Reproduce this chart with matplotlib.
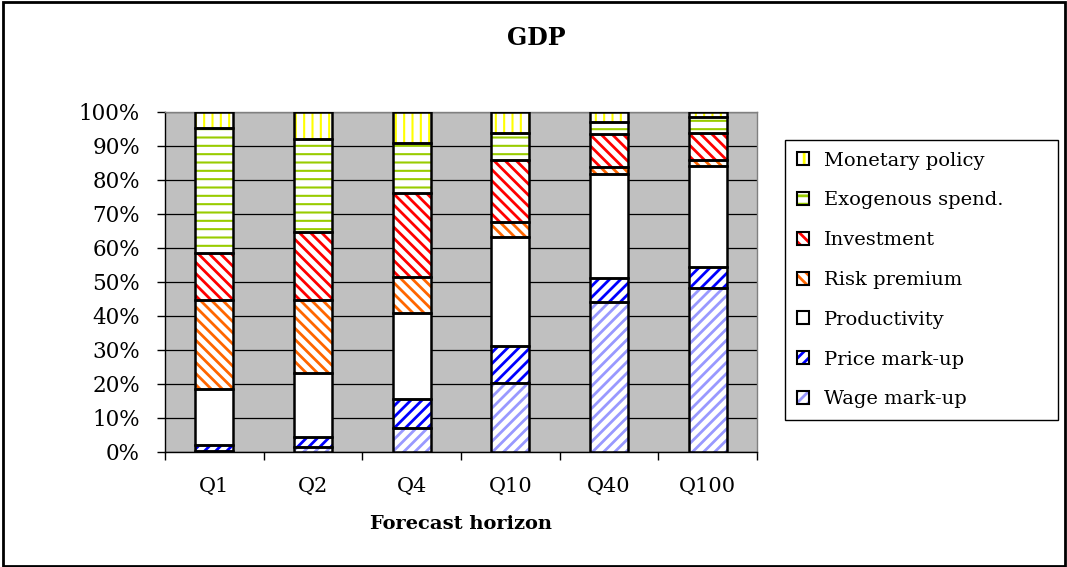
import matplotlib
matplotlib.use("Agg")
import matplotlib.pyplot as plt
import numpy as np
from matplotlib.patches import Patch, Rectangle
from matplotlib.legend_handler import HandlerTuple

categories = ["Q1", "Q2", "Q4", "Q10", "Q40", "Q100"]
series_names = ["Wage mark-up", "Price mark-up", "Productivity", "Risk premium",
                "Investment", "Exogenous spend.", "Monetary policy"]
wage_markup = [0.3, 1.6, 7.0, 20.2, 44.0, 48.3]
price_markup = [1.7, 2.7, 8.5, 11.0, 7.3, 6.0]
productivity = [16.4, 19.0, 25.5, 32.1, 30.5, 29.8]
risk_premium = [26.3, 21.4, 10.4, 4.4, 2.1, 1.8]
investment = [13.9, 20.0, 24.9, 18.2, 9.5, 8.0]
exogenous_spend = [36.6, 27.5, 14.7, 8.0, 3.6, 4.5]
monetary_policy = [4.8, 7.8, 9.0, 6.1, 3.0, 1.6]

values = [wage_markup, price_markup, productivity, risk_premium,
          investment, exogenous_spend, monetary_policy]
hatch_colors = ["#9999FF", "#0000FF", "#FFFFFF", "#FF6600", "#FF0000", "#99CC00", "#FFFF00"]
hatches = ["///", "///", "", "\\\\\\", "\\\\\\", "--", "||"]
hatch_lw = [2.0, 2.0, 1.0, 2.0, 2.0, 1.5, 1.5]

serif = ["DejaVu Serif", "Liberation Serif"]
plt.rcParams["font.family"] = serif
plt.rcParams["hatch.linewidth"] = 2.0

fig = plt.figure(figsize=(10.67, 5.67), dpi=100)
ax = fig.add_axes([165 / 1067, 1 - 452 / 567, (757 - 165) / 1067, (452 - 112) / 567])
ax.set_facecolor("#C0C0C0")


def set_hlw(artist, lw):
    if hasattr(artist, "set_hatch_linewidth"):
        artist.set_hatch_linewidth(lw)


x = np.arange(len(categories))
width = 0.385
bottom = np.zeros(len(categories))
handles = []
for name, vals, hc, h, lw in zip(series_names, values, hatch_colors, hatches, hatch_lw):
    vals = np.array(vals, dtype=float)
    with plt.rc_context({"hatch.linewidth": lw}):
        bars = ax.bar(x, vals, width, bottom=bottom, facecolor="white", edgecolor=hc,
                      linewidth=0, hatch=h, zorder=3)
    for b in bars:
        set_hlw(b, lw)
    ax.bar(x, vals, width, bottom=bottom, fill=False, edgecolor="black",
           linewidth=1.8, zorder=4)
    with plt.rc_context({"hatch.linewidth": lw}):
        p1 = Patch(facecolor="white", edgecolor=hc, linewidth=0, hatch=h)
    set_hlw(p1, lw)
    p2 = Patch(fill=False, edgecolor="black", linewidth=1.5)
    handles.append(((p1, p2), name))
    bottom += vals

ax.set_xlim(-0.5, len(categories) - 0.5)
ax.set_ylim(0, 100)
ax.set_yticks(np.arange(0, 101, 10))
ax.set_yticklabels([f"{v}%" for v in range(0, 101, 10)])
ax.yaxis.grid(True, color="black", linewidth=0.9, zorder=1)
ax.set_axisbelow(True)

ax.set_xticks(np.arange(-0.5, len(categories), 1.0))
ax.set_xticklabels([])
ax.set_xticks(x, minor=True)
ax.set_xticklabels(categories, minor=True)
ax.tick_params(axis="x", which="major", length=6, width=1, color="black", direction="out")
ax.tick_params(axis="x", which="minor", length=0, pad=18, labelsize=15)
ax.tick_params(axis="y", length=6, width=1, direction="out", pad=12, labelsize=15.5)

for s in ["left", "bottom"]:
    ax.spines[s].set_color("black")
    ax.spines[s].set_linewidth(1.0)
for s in ["top", "right"]:
    ax.spines[s].set_color("#808080")
    ax.spines[s].set_linewidth(1.0)

ax.set_xlabel("Forecast horizon", fontsize=14, fontweight="bold", labelpad=14)
fig.text(536 / 1067, 1 - 38 / 567, "GDP", ha="center", va="center",
         fontsize=17, fontweight="bold")

hs = [h for h, _ in handles][::-1]
ls = [l for _, l in handles][::-1]
leg = fig.legend(hs, ls, handler_map={tuple: HandlerTuple(ndivide=1)},
                 loc="upper left",
                 bbox_to_anchor=(785 / 1067, 1 - 418 / 567, 273 / 1067, 278 / 567),
                 bbox_transform=fig.transFigure, mode="expand",
                 fontsize=14, frameon=True, fancybox=False, framealpha=1,
                 edgecolor="black", handlelength=0.65, handleheight=0.65,
                 handletextpad=0.75, labelspacing=1.12, borderpad=0.6,
                 borderaxespad=0)
leg.get_frame().set_linewidth(1.0)

fig.patches.append(Rectangle((0.003, 0.002), 0.995, 0.995, transform=fig.transFigure,
                             fill=False, edgecolor="black", linewidth=2.0))

fig.savefig("out.png", dpi=100)
